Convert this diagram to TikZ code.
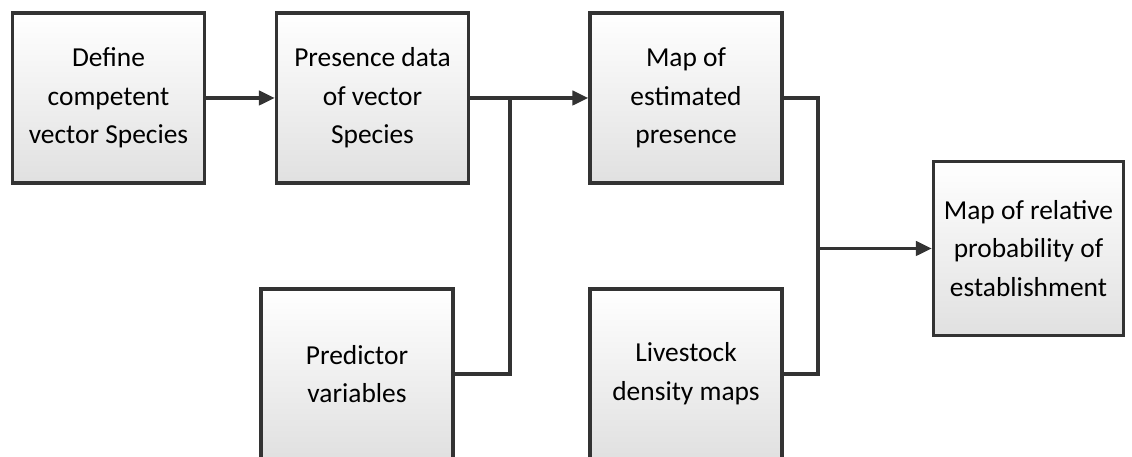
\documentclass[tikz,border=0pt]{standalone}
\usepackage{fontspec}
\setmainfont{Carlito}
\usetikzlibrary{arrows.meta, shadows}

\begin{document}
\begin{tikzpicture}[x=0.025cm, y=-0.025cm, >={Triangle[length=0.4cm,width=0.36cm]},
    box node/.style={rectangle, draw=black!80, line width=2.4pt, top color=white, bottom color=black!12,
        drop shadow={shadow xshift=1.2pt, shadow yshift=-1.2pt, opacity=0.25},
        minimum width=4.8cm, minimum height=4.25cm, inner sep=2pt, align=center,
        font=\fontsize{19.5}{27.5}\selectfont},
    link/.style={line width=2.4pt, draw=black!80}]
                \useasboundingbox (0,0) rectangle (1132,457);
                \clip (0,0) rectangle (1132,457);
                \node[box node] at (108.5,98) (define) {Define\\competent\\vector Species};
                \node[box node] at (372.5,98) (presence) {Presence data\\of vector\\Species};
                \node[box node] at (686,98) (estimated) {Map of\\estimated\\presence};
                \node[box node] at (357,374) (predictor) {Predictor\\variables};
                \node[box node] at (686,374) (livestock) {Livestock\\density maps};
                \node[box node, minimum width=4.75cm, minimum height=4.35cm] at (1028.5,248.5) (relative) {Map of relative\\probability of\\establishment};
                \coordinate (join1) at (510,98);
                \coordinate (join2) at (818,248.5);
                \draw [link, ->] (define) -- (presence);
                \draw [link, ->] (presence) -- (estimated);
                \draw [link] (predictor.east) -| (join1);
                \draw [link] (estimated.east) -| (join2) |- (livestock.east);
                \draw [link, ->] (join2) -- (relative);
            \end{tikzpicture}
\end{document}
